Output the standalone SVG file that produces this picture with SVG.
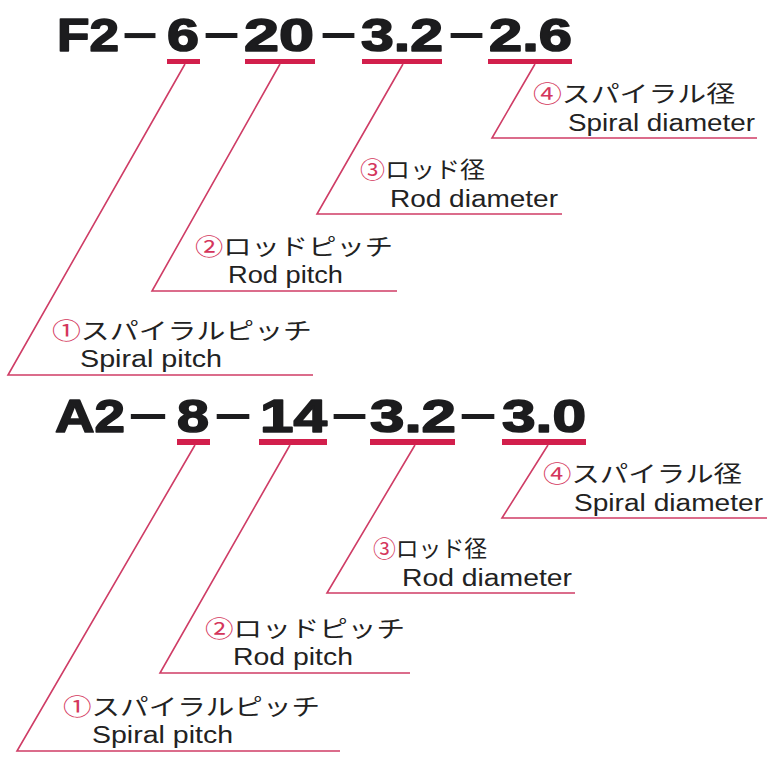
<svg xmlns="http://www.w3.org/2000/svg" width="767" height="758" viewBox="0 0 767 758">
<style>
.title{font-family:"Liberation Sans",Arial,sans-serif;font-weight:bold;font-size:46px;fill:#1c1c1e;stroke:#1c1c1e;stroke-width:1.6px;stroke-linejoin:round}
.dash{font-family:"Liberation Sans",Arial,sans-serif;font-weight:bold;font-size:46px;fill:#1c1c1e}
.ul{fill:#d21f4c}
.jp{font-family:"Noto Sans CJK JP","Noto Sans",sans-serif;font-size:23px;fill:#222}
.en{font-family:"Liberation Sans",Arial,sans-serif;font-size:23px;fill:#222}
.num{fill:#d4365c}
.lead{fill:none;stroke:#cf3d66;stroke-width:1.6px;stroke-linejoin:miter}
</style>
<rect width="767" height="758" fill="#ffffff"/>

<g id="title-top">
<text class="title" x="57" y="51" textLength="62" lengthAdjust="spacingAndGlyphs">F2</text>
<text class="dash" x="122" y="51" textLength="36" lengthAdjust="spacingAndGlyphs">−</text>
<text class="title" x="167" y="51" textLength="32" lengthAdjust="spacingAndGlyphs">6</text>
<text class="dash" x="203" y="51" textLength="37" lengthAdjust="spacingAndGlyphs">−</text>
<text class="title" x="244" y="51" textLength="70" lengthAdjust="spacingAndGlyphs">20</text>
<text class="dash" x="320" y="51" textLength="37" lengthAdjust="spacingAndGlyphs">−</text>
<text class="title" x="361" y="51" textLength="82" lengthAdjust="spacingAndGlyphs">3.2</text>
<text class="dash" x="448" y="51" textLength="37" lengthAdjust="spacingAndGlyphs">−</text>
<text class="title" x="489" y="51" textLength="83" lengthAdjust="spacingAndGlyphs">2.6</text>
<rect class="ul" x="167" y="59" width="33" height="5"/>
<rect class="ul" x="245" y="59" width="70" height="5"/>
<rect class="ul" x="362" y="59" width="80" height="5"/>
<rect class="ul" x="488" y="59" width="84" height="5"/>
</g>

<g id="title-bottom">
<text class="title" x="55" y="432" textLength="70" lengthAdjust="spacingAndGlyphs">A2</text>
<text class="dash" x="128" y="432" textLength="40" lengthAdjust="spacingAndGlyphs">−</text>
<text class="title" x="177" y="432" textLength="32" lengthAdjust="spacingAndGlyphs">8</text>
<text class="dash" x="214" y="432" textLength="38" lengthAdjust="spacingAndGlyphs">−</text>
<text class="title" x="260" y="432" textLength="67" lengthAdjust="spacingAndGlyphs">14</text>
<text class="dash" x="331" y="432" textLength="37" lengthAdjust="spacingAndGlyphs">−</text>
<text class="title" x="370" y="432" textLength="86" lengthAdjust="spacingAndGlyphs">3.2</text>
<text class="dash" x="459" y="432" textLength="38" lengthAdjust="spacingAndGlyphs">−</text>
<text class="title" x="502" y="432" textLength="84" lengthAdjust="spacingAndGlyphs">3.0</text>
<rect class="ul" x="177" y="439" width="33" height="6"/>
<rect class="ul" x="259" y="439" width="68" height="6"/>
<rect class="ul" x="370" y="439" width="85" height="6"/>
<rect class="ul" x="502" y="439" width="84" height="6"/>
</g>

<g id="connectors">
<polyline class="lead" points="185,64 8,375 313,375"/>
<polyline class="lead" points="280,64 152,291 397,291"/>
<polyline class="lead" points="403,64 317,214 562,214"/>
<polyline class="lead" points="535,64 492,138 757,138"/>
<polyline class="lead" points="195,445 17,751 340,751"/>
<polyline class="lead" points="290,445 160,673 410,673"/>
<polyline class="lead" points="415,445 327,593 575,593"/>
<polyline class="lead" points="548,445 502,518 767,518"/>
</g>

<g id="top-4">
<text class="jp" x="533" y="102" textLength="202" lengthAdjust="spacingAndGlyphs"><tspan class="num">④</tspan>スパイラル径</text>
<text class="en" x="568" y="131" textLength="187" lengthAdjust="spacingAndGlyphs">Spiral diameter</text>
</g>
<g id="top-3">
<text class="jp" x="360" y="178" textLength="125" lengthAdjust="spacingAndGlyphs"><tspan class="num">③</tspan>ロッド径</text>
<text class="en" x="390" y="207" textLength="168" lengthAdjust="spacingAndGlyphs">Rod diameter</text>
</g>
<g id="top-2">
<text class="jp" x="195" y="255" textLength="198" lengthAdjust="spacingAndGlyphs"><tspan class="num">②</tspan>ロッドピッチ</text>
<text class="en" x="228" y="283" textLength="115" lengthAdjust="spacingAndGlyphs">Rod pitch</text>
</g>
<g id="top-1">
<text class="jp" x="52" y="339" textLength="260" lengthAdjust="spacingAndGlyphs"><tspan class="num">①</tspan>スパイラルピッチ</text>
<text class="en" x="80" y="367" textLength="142" lengthAdjust="spacingAndGlyphs">Spiral pitch</text>
</g>

<g id="bottom-4">
<text class="jp" x="543" y="482" textLength="199" lengthAdjust="spacingAndGlyphs"><tspan class="num">④</tspan>スパイラル径</text>
<text class="en" x="574" y="511" textLength="189" lengthAdjust="spacingAndGlyphs">Spiral diameter</text>
</g>
<g id="bottom-3">
<text class="jp" x="373" y="557" textLength="114" lengthAdjust="spacingAndGlyphs"><tspan class="num">③</tspan>ロッド径</text>
<text class="en" x="402" y="586" textLength="170" lengthAdjust="spacingAndGlyphs">Rod diameter</text>
</g>
<g id="bottom-2">
<text class="jp" x="205" y="637" textLength="200" lengthAdjust="spacingAndGlyphs"><tspan class="num">②</tspan>ロッドピッチ</text>
<text class="en" x="233" y="665" textLength="120" lengthAdjust="spacingAndGlyphs">Rod pitch</text>
</g>
<g id="bottom-1">
<text class="jp" x="63" y="715" textLength="257" lengthAdjust="spacingAndGlyphs"><tspan class="num">①</tspan>スパイラルピッチ</text>
<text class="en" x="92" y="743" textLength="141" lengthAdjust="spacingAndGlyphs">Spiral pitch</text>
</g>
</svg>
